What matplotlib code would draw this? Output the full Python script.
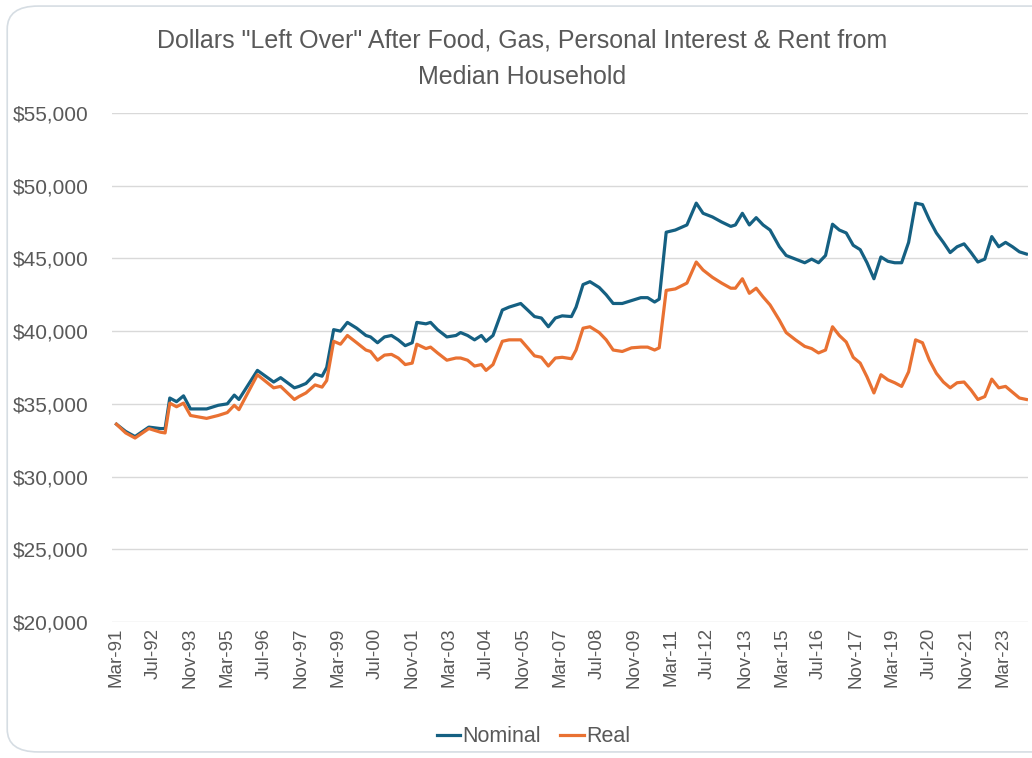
import pandas as pd
import matplotlib
matplotlib.use("Agg")
import matplotlib.pyplot as plt
import matplotlib.dates as mdates
from matplotlib.ticker import FuncFormatter
from matplotlib.patches import FancyBboxPatch

# values (thousands of dollars)
dates = [
    "1991-03", "1991-07", "1991-11", "1992-05", "1992-10", "1992-12", "1993-02", "1993-05",
    "1993-08", "1993-11", "1994-06", "1994-11", "1995-03", "1995-06", "1995-08", "1995-12",
    "1996-04", "1996-11", "1997-02", "1997-08", "1997-10", "1998-01", "1998-05", "1998-08",
    "1998-10", "1999-01", "1999-04", "1999-07", "1999-11", "2000-03", "2000-05", "2000-08",
    "2000-11", "2001-02", "2001-05", "2001-08", "2001-11", "2002-01", "2002-05", "2002-07",
    "2002-10", "2003-02", "2003-06", "2003-08", "2003-11", "2004-02", "2004-05", "2004-07",
    "2004-10", "2005-02", "2005-05", "2005-10", "2006-01", "2006-04", "2006-07", "2006-10",
    "2007-01", "2007-04", "2007-08", "2007-10", "2008-01", "2008-04", "2008-08", "2008-11",
    "2009-02", "2009-06", "2009-10", "2010-02", "2010-05", "2010-08", "2010-10", "2011-01",
    "2011-05", "2011-10", "2012-02", "2012-05", "2012-09", "2013-01", "2013-05", "2013-07",
    "2013-10", "2014-01", "2014-04", "2014-07", "2014-10", "2015-02", "2015-05", "2015-09",
    "2016-01", "2016-04", "2016-07", "2016-10", "2017-01", "2017-04", "2017-07", "2017-10",
    "2018-01", "2018-04", "2018-07", "2018-10", "2019-01", "2019-04", "2019-07", "2019-10",
    "2020-01", "2020-04", "2020-07", "2020-10", "2021-01", "2021-04", "2021-07", "2021-10",
    "2022-01", "2022-04", "2022-07", "2022-10", "2023-01", "2023-04", "2023-07", "2023-10",
    "2024-01",
]

nominal = [
    33.6, 33.1, 32.75, 33.4, 33.3, 33.3, 35.4, 35.15,
    35.55, 34.65, 34.65, 34.9, 35.0, 35.6, 35.3, 36.3,
    37.3, 36.5, 36.8, 36.1, 36.2, 36.4, 37.05, 36.9,
    37.5, 40.1, 40.0, 40.6, 40.2, 39.7, 39.6, 39.2,
    39.6, 39.7, 39.4, 39.0, 39.2, 40.6, 40.5, 40.6,
    40.1, 39.6, 39.7, 39.9, 39.7, 39.4, 39.7, 39.3,
    39.7, 41.45, 41.65, 41.9, 41.45, 41.0, 40.9, 40.3,
    40.9, 41.05, 41.0, 41.65, 43.2, 43.4, 43.0, 42.5,
    41.9, 41.9, 42.1, 42.3, 42.3, 42.0, 42.2, 46.8,
    46.95, 47.3, 48.8, 48.1, 47.85, 47.5, 47.2, 47.3,
    48.1, 47.3, 47.8, 47.3, 46.95, 45.8, 45.2, 44.95,
    44.7, 44.95, 44.7, 45.2, 47.35, 46.95, 46.75, 45.9,
    45.6, 44.7, 43.6, 45.1, 44.8, 44.7, 44.7, 46.1,
    48.8, 48.7, 47.65, 46.75, 46.1, 45.4, 45.8, 46.0,
    45.4, 44.75, 44.95, 46.5, 45.8, 46.1, 45.8, 45.45,
    45.3,
]

real = [
    33.6, 33.0, 32.65, 33.3, 33.05, 33.0, 35.05, 34.8,
    35.05, 34.2, 34.0, 34.2, 34.4, 34.9, 34.6, 35.8,
    37.0, 36.1, 36.2, 35.3, 35.5, 35.75, 36.3, 36.15,
    36.6, 39.3, 39.1, 39.7, 39.2, 38.7, 38.6, 38.0,
    38.35, 38.4, 38.15, 37.7, 37.8, 39.1, 38.8, 38.9,
    38.5, 38.0, 38.15, 38.15, 38.0, 37.6, 37.7, 37.3,
    37.7, 39.3, 39.4, 39.4, 38.85, 38.3, 38.2, 37.6,
    38.15, 38.2, 38.1, 38.7, 40.2, 40.3, 39.9, 39.4,
    38.7, 38.6, 38.85, 38.9, 38.9, 38.7, 38.85, 42.8,
    42.9, 43.3, 44.75, 44.2, 43.7, 43.3, 42.95, 42.95,
    43.6, 42.6, 42.95, 42.35, 41.8, 40.75, 39.9, 39.4,
    38.95, 38.8, 38.5, 38.7, 40.3, 39.7, 39.25, 38.2,
    37.8, 36.85, 35.75, 37.0, 36.65, 36.45, 36.2, 37.2,
    39.4, 39.2, 38.0, 37.1, 36.5, 36.1, 36.45, 36.5,
    35.95, 35.3, 35.5, 36.7, 36.1, 36.2, 35.8, 35.4,
    35.3,
]

title = 'Dollars "Left Over" After Food, Gas, Personal Interest & Rent from\nMedian Household'

x = pd.to_datetime(dates, format="%Y-%m")
nom = [v * 1000 for v in nominal]
rl = [v * 1000 for v in real]

plt.rcParams['font.family'] = ['Liberation Sans', 'DejaVu Sans']
grey = '#595959'

fig = plt.figure(figsize=(10.32, 7.58), dpi=100)
ax = fig.add_axes([0.1085, 0.1794, 0.8875, 0.6716])

ax.plot(x, nom, color='#156082', lw=2.3, label='Nominal', solid_joinstyle='round')
ax.plot(x, rl, color='#E97132', lw=2.3, label='Real', solid_joinstyle='round')

ax.set_ylim(20000, 55000)
ax.set_yticks(range(20000, 55001, 5000))
ax.yaxis.set_major_formatter(FuncFormatter(lambda v, p: f"${v:,.0f}"))
ax.grid(axis='y', color='#d9d9d9', lw=1)
ax.set_axisbelow(True)

ticks = pd.date_range("1991-03-01", "2023-03-01", freq="16MS")
ax.set_xticks(ticks)
ax.xaxis.set_major_formatter(mdates.DateFormatter("%b-%y"))
ax.set_xlim(pd.Timestamp("1991-01-01"), pd.Timestamp("2024-01-20"))
plt.setp(ax.get_xticklabels(), rotation=90)

ax.tick_params(axis='x', length=0, labelsize=13.5, colors=grey, pad=4)
ax.tick_params(axis='y', length=0, labelsize=15, colors=grey, pad=17)
for s in ax.spines.values():
    s.set_visible(False)

fig.text(0.506, 0.962, title, ha='center', va='top', fontsize=18,
         color=grey, linespacing=1.65)

leg = fig.legend(loc='center', bbox_to_anchor=(0.517, 0.028), ncol=2, frameon=False,
                 fontsize=15.5, handlelength=1.1, handletextpad=0.1, columnspacing=0.9)
for t in leg.get_texts():
    t.set_color(grey)

# card border
fig.patches.append(FancyBboxPatch((0.007, 0.008), 1.05, 0.984,
                                  boxstyle="round,pad=0,rounding_size=0.03",
                                  transform=fig.transFigure, fc='none',
                                  ec='#d6dde3', lw=1.2))

fig.savefig("out.png", dpi=100)
